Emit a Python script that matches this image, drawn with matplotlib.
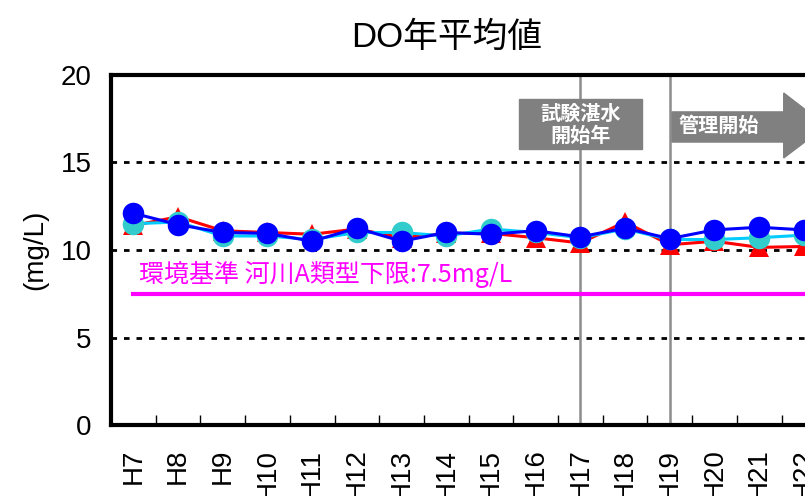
import matplotlib
matplotlib.use("Agg")
import matplotlib.pyplot as plt
from matplotlib.patches import Rectangle, Polygon

plt.rcParams['font.family'] = ['Liberation Sans', 'Noto Sans CJK JP']

# 年度 (H7 - H22) と DO年平均値 (mg/L)
years = ['H7', 'H8', 'H9', 'H10', 'H11', 'H12', 'H13', 'H14', 'H15', 'H16',
         'H17', 'H18', 'H19', 'H20', 'H21', 'H22']
red_vals = [11.4, 11.9, 11.1, 11.0, 10.9, 11.2, 10.7, 10.95, 10.95, 10.7,
            10.4, 11.6, 10.3, 10.5, 10.15, 10.2]
cyan_vals = [11.5, 11.6, 10.8, 10.8, 10.6, 11.0, 11.0, 10.8, 11.2, 11.0,
             10.7, 11.2, 10.6, 10.6, 10.7, 10.85]
blue_vals = [12.1, 11.45, 11.0, 10.95, 10.5, 11.25, 10.5, 11.0, 10.9, 11.1,
             10.75, 11.25, 10.65, 11.15, 11.3, 11.15]
std_value = 7.5
std_label = '環境基準 河川A類型下限:7.5mg/L'
trial_year = 'H17'
manage_year = 'H19'

x = list(range(len(years)))
n_cat = 20  # 軸は図の右端より先まで続く

fig = plt.figure(figsize=(8.05, 4.96), dpi=100)
ax = fig.add_axes([111 / 805, 1 - 425 / 496, n_cat * 44.7 / 805, 350 / 496])

ax.set_xlim(-0.5, n_cat - 0.5)
ax.set_ylim(0, 20)

# 点線グリッド
for yv in [5, 10, 15]:
    ax.axhline(yv, color='black', lw=2, ls=(0, (2, 2.5)), zorder=1)

# 試験湛水・管理開始の縦線
for yr in [trial_year, manage_year]:
    ax.axvline(years.index(yr), color='#8c8c8c', lw=1.8, zorder=2)

# 環境基準線
ax.axhline(std_value, xmin=0.5 / n_cat, xmax=1, color='#ff00ff', lw=3, zorder=3)
ax.text(0.12, std_value + 0.35, std_label, color='#ff00ff', fontsize=18,
        family=['Noto Sans CJK JP'], va='bottom', ha='left', zorder=3)

ax.plot(x, red_vals, color='#ff0000', lw=2.2, marker='^', ms=15,
        markeredgewidth=0, zorder=4)
ax.plot(x, cyan_vals, color='#00ccff', lw=2.2, marker='o', ms=15.5,
        markerfacecolor='#33cccc', markeredgewidth=0, zorder=5)
ax.plot(x, blue_vals, color='#0000ff', lw=2.2, marker='o', ms=15.5,
        markeredgewidth=0, zorder=6)

# 試験湛水開始年の箱
i17 = years.index(trial_year)
ax.add_patch(Rectangle((i17 - 1.38, 15.77), 2.75, 2.86, color='#808080',
                       zorder=7, clip_on=False))
ax.text(i17 + 0.0, 17.2, '試験湛水\n開始年', color='white', fontsize=14.5,
        fontweight='bold', family=['Noto Sans CJK JP'], ha='center',
        va='center', linespacing=1.05, zorder=8)

# 管理開始の矢印
i19 = years.index(manage_year)
arrow = [(i19 + 0.05, 17.89), (i19 + 2.55, 17.89), (i19 + 2.55, 18.97),
         (i19 + 3.5, 17.1), (i19 + 2.55, 15.26), (i19 + 2.55, 16.17),
         (i19 + 0.05, 16.17)]
ax.add_patch(Polygon(arrow, closed=True, color='#808080', zorder=7))
ax.text(i19 + 1.1, 17.1, '管理開始', color='white', fontsize=14.5,
        fontweight='bold', family=['Noto Sans CJK JP'], ha='center',
        va='center', zorder=8)

# 軸
for s in ax.spines.values():
    s.set_linewidth(3)
ax.set_yticks([0, 5, 10, 15, 20])
ax.tick_params(axis='y', length=0, pad=14, labelsize=20)
ax.set_xticks(x)
ax.set_xticklabels(years, rotation=90, fontsize=20)
ax.set_xticks([i + 0.5 for i in range(n_cat)], minor=True)
ax.tick_params(axis='x', which='major', length=0, pad=17)
ax.tick_params(axis='x', which='minor', direction='in', length=7, width=1)

fig.text(35 / 805, 1 - 250 / 496, '(mg/L)', rotation=90, fontsize=20,
         ha='center', va='center')
fig.text(447 / 805, 1 - 37 / 496, 'DO年平均値', fontsize=25, ha='center',
         va='center')

fig.savefig('out.png', dpi=100)
